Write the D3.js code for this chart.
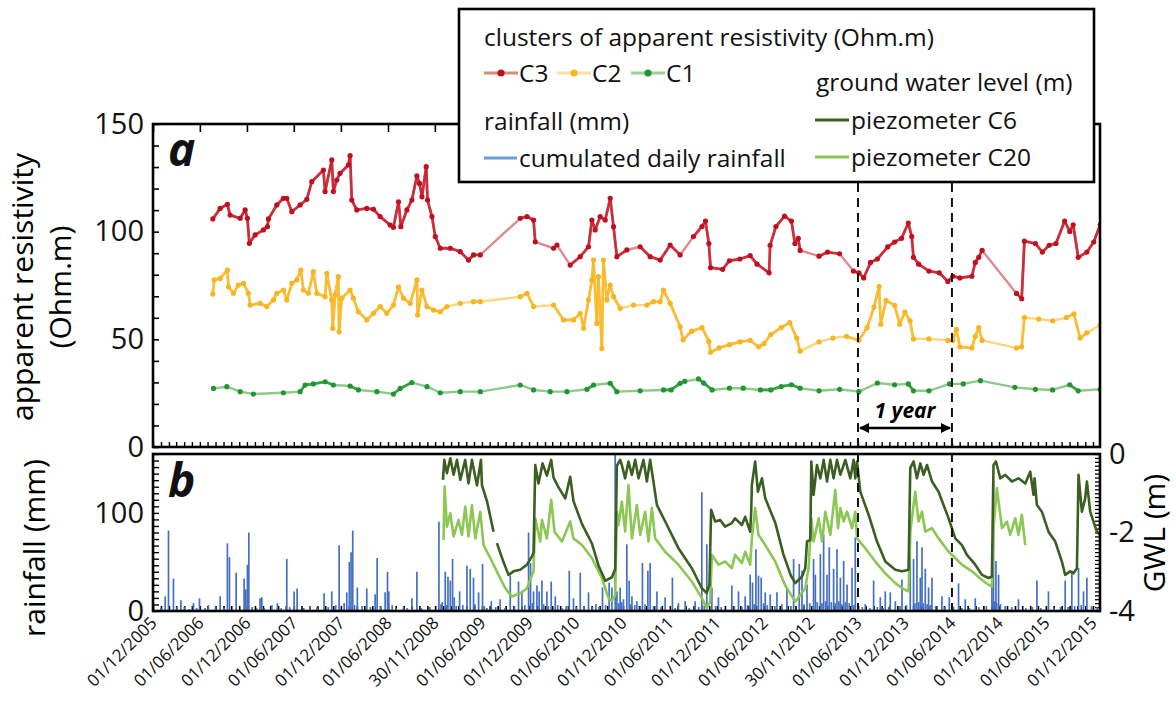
<!DOCTYPE html>
<html>
<head>
<meta charset="utf-8">
<script src="https://cdn.jsdelivr.net/npm/d3@7"></script>
<style>
  html, body { margin: 0; padding: 0; background: #fff; }
  svg { display: block; font-family: "Open Sans", "DejaVu Sans", sans-serif; }
</style>
</head>
<body>
<svg id="chart" width="1176" height="708"></svg>
<script>
// Apparent resistivity clusters [decimal year, Ohm.m]
const c3 = [[2006.552,105.9],[2006.630,110.8],[2006.707,112.7],[2006.736,107.7],[2006.843,106.2],[2006.896,110.1],[2006.920,106.2],[2006.941,94.6],[2007.002,98.5],[2007.090,100.8],[2007.133,102.3],[2007.144,105.9],[2007.233,112.4],[2007.303,115.5],[2007.339,115.5],[2007.393,109.3],[2007.481,112.4],[2007.552,115.0],[2007.605,123.2],[2007.729,128.6],[2007.747,118.6],[2007.818,133.3],[2007.835,118.6],[2007.871,124.0],[2007.906,127.1],[2007.995,131.0],[2008.013,135.3],[2008.031,114.7],[2008.084,110.1],[2008.190,110.8],[2008.261,110.4],[2008.332,107.0],[2008.438,103.1],[2008.473,102.0],[2008.527,113.9],[2008.552,102.3],[2008.616,110.1],[2008.669,114.7],[2008.722,125.9],[2008.750,122.4],[2008.776,116.2],[2008.821,130.2],[2008.835,114.7],[2008.882,107.0],[2008.917,97.7],[2008.970,92.3],[2009.077,92.3],[2009.183,90.7],[2009.271,86.8],[2009.324,89.2],[2009.396,89.2],[2009.821,106.2],[2009.893,107.0],[2009.963,105.4],[2009.981,95.3],[2010.176,92.3],[2010.212,93.8],[2010.353,84.5],[2010.460,88.4],[2010.548,93.0],[2010.584,105.4],[2010.619,100.8],[2010.672,107.0],[2010.726,105.4],[2010.779,115.5],[2010.814,102.3],[2010.850,88.4],[2010.956,91.5],[2011.098,93.0],[2011.204,88.4],[2011.311,86.8],[2011.417,93.8],[2011.523,89.2],[2011.665,97.7],[2011.756,102.4],[2011.793,104.9],[2011.829,94.5],[2011.847,83.3],[2011.976,82.5],[2012.048,86.5],[2012.158,87.3],[2012.268,88.9],[2012.341,84.9],[2012.469,80.9],[2012.480,93.7],[2012.541,102.4],[2012.633,107.2],[2012.706,104.9],[2012.743,94.5],[2012.779,96.9],[2012.798,91.3],[2012.999,88.6],[2013.090,90.5],[2013.218,89.7],[2013.365,81.7],[2013.423,80.9],[2013.474,78.5],[2013.547,85.7],[2013.620,87.3],[2013.730,92.9],[2013.803,95.2],[2013.877,96.9],[2013.949,104.0],[2013.986,97.7],[2014.004,88.1],[2014.060,84.9],[2014.169,81.7],[2014.279,80.9],[2014.370,76.9],[2014.424,79.3],[2014.498,78.5],[2014.626,79.3],[2014.662,85.7],[2014.699,88.1],[2014.735,91.3],[2015.101,71.3],[2015.156,68.9],[2015.185,95.6],[2015.302,94.5],[2015.376,90.5],[2015.449,93.7],[2015.521,94.5],[2015.613,104.9],[2015.668,100.1],[2015.704,103.2],[2015.758,88.1],[2015.850,90.5],[2015.923,95.2],[2015.991,103.2]];

const c2 = [[2006.552,71.0],[2006.566,77.6],[2006.630,78.3],[2006.707,82.2],[2006.718,74.4],[2006.771,71.4],[2006.824,75.2],[2006.878,76.0],[2006.931,71.4],[2006.949,65.9],[2007.055,66.7],[2007.126,65.2],[2007.197,68.3],[2007.233,71.4],[2007.303,72.9],[2007.339,68.3],[2007.393,76.0],[2007.446,77.6],[2007.488,82.2],[2007.516,72.9],[2007.569,71.4],[2007.622,81.4],[2007.658,71.4],[2007.747,69.8],[2007.765,80.7],[2007.818,68.3],[2007.829,55.1],[2007.853,70.6],[2007.888,79.1],[2007.896,53.5],[2007.924,69.1],[2008.013,72.9],[2008.048,69.1],[2008.101,62.8],[2008.190,59.0],[2008.261,62.1],[2008.332,65.2],[2008.403,62.1],[2008.473,65.9],[2008.527,74.4],[2008.580,69.1],[2008.651,66.7],[2008.722,77.6],[2008.730,61.3],[2008.776,72.9],[2008.829,65.2],[2008.899,63.6],[2008.970,62.8],[2009.041,65.2],[2009.183,66.7],[2009.324,67.5],[2009.396,67.5],[2009.821,69.8],[2009.893,71.4],[2009.963,65.2],[2010.176,65.9],[2010.282,59.0],[2010.388,59.0],[2010.460,62.1],[2010.495,55.1],[2010.548,68.3],[2010.584,77.6],[2010.601,86.8],[2010.637,57.4],[2010.654,79.1],[2010.690,45.8],[2010.707,86.8],[2010.743,68.3],[2010.779,75.2],[2010.814,69.8],[2010.885,64.4],[2011.027,65.9],[2011.169,65.9],[2011.239,67.5],[2011.311,67.5],[2011.346,72.9],[2011.417,66.7],[2011.523,55.9],[2011.555,49.8],[2011.646,53.8],[2011.756,55.4],[2011.829,49.0],[2011.847,44.0],[2011.938,46.0],[2012.048,47.5],[2012.158,48.8],[2012.268,49.5],[2012.359,46.5],[2012.414,48.0],[2012.487,52.2],[2012.597,55.4],[2012.688,57.8],[2012.762,50.6],[2012.798,44.5],[2012.999,48.8],[2013.146,50.6],[2013.291,51.4],[2013.423,49.5],[2013.510,55.4],[2013.584,65.0],[2013.638,74.5],[2013.656,57.0],[2013.712,68.1],[2013.803,65.8],[2013.858,57.0],[2013.913,62.6],[2013.968,58.6],[2014.004,50.2],[2014.169,50.2],[2014.370,49.5],[2014.424,49.5],[2014.462,54.6],[2014.498,46.5],[2014.626,46.0],[2014.662,51.4],[2014.699,55.4],[2014.735,49.5],[2015.101,46.0],[2015.156,46.5],[2015.185,60.1],[2015.338,59.4],[2015.485,58.6],[2015.632,60.1],[2015.712,61.8],[2015.778,50.6],[2015.850,53.0],[2015.991,56.6]];

const c1 = [[2006.559,27.2],[2006.701,28.0],[2006.843,25.7],[2006.984,24.6],[2007.303,25.2],[2007.481,25.7],[2007.534,28.8],[2007.622,29.3],[2007.747,30.3],[2007.835,28.8],[2008.013,28.3],[2008.101,26.5],[2008.297,25.7],[2008.473,24.6],[2008.545,27.2],[2008.669,29.9],[2008.829,28.0],[2008.970,25.2],[2009.183,25.7],[2009.396,25.7],[2009.821,28.8],[2009.963,26.5],[2010.140,25.7],[2010.318,25.7],[2010.531,26.8],[2010.601,28.8],[2010.779,29.6],[2010.850,25.7],[2011.098,26.1],[2011.346,26.5],[2011.428,26.5],[2011.523,29.6],[2011.573,30.5],[2011.719,31.6],[2011.774,29.7],[2011.864,26.5],[2012.048,27.3],[2012.194,27.3],[2012.377,26.5],[2012.487,26.5],[2012.598,28.1],[2012.706,28.9],[2012.798,27.3],[2012.999,26.1],[2013.218,26.8],[2013.423,25.7],[2013.620,29.7],[2013.803,28.9],[2013.949,29.3],[2014.004,26.1],[2014.169,26.1],[2014.388,29.3],[2014.534,29.3],[2014.717,30.8],[2015.083,27.7],[2015.302,26.8],[2015.485,26.5],[2015.668,28.9],[2015.758,26.1],[2015.991,26.8]];

// Daily rainfall [decimal year, mm]
const rainfall = [[2006.000,3],[2006.045,15],[2006.080,82],[2006.133,33],[2006.170,4],[2006.212,11],[2006.250,4],[2006.300,2],[2006.346,8],[2006.380,3],[2006.410,13],[2006.470,3],[2006.505,6],[2006.580,4],[2006.630,15],[2006.670,3],[2006.707,69],[2006.729,55],[2006.800,39],[2006.885,33],[2006.903,22],[2006.920,47],[2006.935,80],[2006.970,4],[2007.020,3],[2007.055,13],[2007.073,14],[2007.100,3],[2007.180,6],[2007.239,8],[2007.280,3],[2007.339,53],[2007.370,4],[2007.417,20],[2007.449,23],[2007.520,3],[2007.587,5],[2007.660,4],[2007.736,18],[2007.780,4],[2007.818,20],[2007.860,6],[2007.896,67],[2007.950,8],[2007.978,19],[2008.005,50],[2008.023,60],[2008.041,82],[2008.060,6],[2008.090,24],[2008.140,5],[2008.190,23],[2008.230,4],[2008.279,17],[2008.300,54],[2008.340,5],[2008.385,19],[2008.410,40],[2008.424,20],[2008.460,6],[2008.500,3],[2008.580,4],[2008.620,3],[2008.669,13],[2008.722,40],[2008.770,3],[2008.860,4],[2008.956,91],[2008.978,7],[2008.990,9],[2009.023,40],[2009.040,6],[2009.052,35],[2009.077,31],[2009.101,53],[2009.119,14],[2009.140,5],[2009.176,20],[2009.210,6],[2009.254,46],[2009.289,43],[2009.324,34],[2009.340,7],[2009.378,19],[2009.420,48],[2009.440,5],[2009.467,3],[2009.513,10],[2009.560,4],[2009.608,12],[2009.660,3],[2009.715,36],[2009.760,5],[2009.803,30],[2009.839,18],[2009.870,6],[2009.910,80],[2009.931,49],[2009.950,8],[2009.963,20],[2009.999,26],[2010.023,20],[2010.052,31],[2010.070,7],[2010.105,20],[2010.120,5],[2010.151,30],[2010.194,15],[2010.220,6],[2010.265,3],[2010.310,5],[2010.343,41],[2010.388,13],[2010.420,4],[2010.460,39],[2010.500,5],[2010.548,19],[2010.590,4],[2010.627,7],[2010.660,4],[2010.697,24],[2010.730,6],[2010.768,29],[2010.797,24],[2010.832,160],[2010.850,20],[2010.870,8],[2010.885,24],[2010.900,9],[2010.920,12],[2010.956,68],[2010.981,31],[2010.990,7],[2011.010,15],[2011.040,6],[2011.063,10],[2011.100,5],[2011.122,49],[2011.150,7],[2011.180,41],[2011.204,49],[2011.240,5],[2011.276,20],[2011.320,4],[2011.364,14],[2011.441,34],[2011.470,3],[2011.505,8],[2011.577,10],[2011.620,3],[2011.683,10],[2011.720,4],[2011.754,121],[2011.780,6],[2011.807,68],[2011.861,24],[2011.900,5],[2011.931,14],[2011.960,4],[2012.073,26],[2012.100,5],[2012.144,20],[2012.180,4],[2012.215,15],[2012.240,6],[2012.268,37],[2012.293,29],[2012.310,7],[2012.329,63],[2012.356,36],[2012.385,34],[2012.410,8],[2012.428,19],[2012.450,6],[2012.481,17],[2012.530,5],[2012.552,19],[2012.605,7],[2012.658,24],[2012.700,5],[2012.729,53],[2012.789,48],[2012.818,41],[2012.840,7],[2012.871,27],[2012.900,8],[2012.941,53],[2012.960,37],[2012.980,9],[2013.013,58],[2013.030,8],[2013.048,78],[2013.070,10],[2013.084,37],[2013.108,65],[2013.130,9],[2013.154,43],[2013.170,8],[2013.190,63],[2013.210,10],[2013.226,34],[2013.240,7],[2013.261,51],[2013.280,9],[2013.297,27],[2013.320,8],[2013.350,44],[2013.370,6],[2013.385,75],[2013.460,4],[2013.491,7],[2013.540,3],[2013.580,31],[2013.620,4],[2013.651,14],[2013.680,3],[2013.704,20],[2013.740,4],[2013.757,19],[2013.811,10],[2013.860,5],[2013.882,32],[2013.930,6],[2013.970,83],[2014.005,53],[2014.020,8],[2014.041,71],[2014.060,9],[2014.077,34],[2014.095,65],[2014.110,8],[2014.130,43],[2014.150,7],[2014.165,24],[2014.190,6],[2014.201,34],[2014.240,5],[2014.307,15],[2014.340,4],[2014.385,14],[2014.430,4],[2014.484,28],[2014.520,3],[2014.555,12],[2014.600,3],[2014.662,13],[2014.700,4],[2014.780,5],[2014.839,68],[2014.850,9],[2014.856,133],[2014.870,10],[2014.882,51],[2014.890,8],[2014.910,37],[2014.930,7],[2014.980,5],[2015.050,4],[2015.122,12],[2015.200,3],[2015.270,4],[2015.318,31],[2015.360,3],[2015.441,20],[2015.500,3],[2015.570,4],[2015.619,31],[2015.650,4],[2015.690,41],[2015.720,5],[2015.761,44],[2015.790,6],[2015.814,20],[2015.850,34],[2015.900,5],[2015.960,4]];

// Ground water level [decimal year, m]; null marks a gap in the record
const gwlC6 = [[2008.999,-0.66],[2009.013,-0.15],[2009.041,-0.49],[2009.077,-0.11],[2009.112,-0.53],[2009.148,-0.15],[2009.183,-0.66],[2009.236,-0.15],[2009.271,-0.75],[2009.307,-0.15],[2009.361,-0.80],[2009.403,-0.15],[2009.414,-0.80],[2009.467,-1.20],[2009.537,-1.98],[2009.555,null],[2009.573,-2.27],[2009.644,-2.76],[2009.697,-3.08],[2009.750,-2.99],[2009.821,-2.95],[2009.893,-2.82],[2009.946,-2.61],[2009.963,-2.51],[2009.981,-0.28],[2010.016,-0.75],[2010.059,-0.24],[2010.105,-0.55],[2010.151,-0.15],[2010.176,-0.60],[2010.229,-0.85],[2010.300,-1.13],[2010.353,-0.58],[2010.388,-1.20],[2010.478,-1.78],[2010.584,-2.28],[2010.654,-2.84],[2010.726,-3.23],[2010.797,-3.14],[2010.832,-2.93],[2010.850,-0.30],[2010.885,-0.15],[2010.903,-0.28],[2010.938,-0.62],[2010.973,-0.19],[2011.010,-0.53],[2011.045,-0.15],[2011.080,-0.62],[2011.133,-0.15],[2011.169,-0.70],[2011.204,-0.15],[2011.239,-0.70],[2011.276,-1.30],[2011.364,-1.72],[2011.505,-2.40],[2011.648,-2.91],[2011.754,-3.42],[2011.807,-3.54],[2011.835,-3.33],[2011.853,-1.42],[2011.896,-1.72],[2011.949,-1.68],[2012.002,-1.85],[2012.073,-1.76],[2012.108,-1.64],[2012.180,-1.81],[2012.215,-1.60],[2012.268,-1.98],[2012.279,-1.47],[2012.286,-0.79],[2012.321,-0.19],[2012.350,-0.96],[2012.393,-0.62],[2012.428,-1.13],[2012.534,-1.75],[2012.620,-2.55],[2012.700,-3.10],[2012.747,-3.29],[2012.818,-3.12],[2012.853,-2.91],[2012.871,-2.23],[2012.906,-2.19],[2012.917,-0.19],[2012.941,-1.04],[2012.977,-0.28],[2013.013,-0.62],[2013.048,-0.15],[2013.084,-0.70],[2013.119,-0.15],[2013.154,-0.62],[2013.190,-0.15],[2013.226,-0.53],[2013.279,-0.15],[2013.332,-0.62],[2013.367,-0.15],[2013.385,-0.62],[2013.403,-0.19],[2013.438,-0.96],[2013.527,-1.55],[2013.616,-2.23],[2013.704,-2.74],[2013.811,-2.95],[2013.882,-2.99],[2013.952,-2.95],[2013.970,-0.36],[2014.005,-0.19],[2014.041,-0.62],[2014.077,-0.24],[2014.112,-0.53],[2014.148,-0.28],[2014.201,-0.70],[2014.271,-0.96],[2014.378,-1.64],[2014.449,-2.15],[2014.520,-2.32],[2014.573,-2.57],[2014.662,-2.82],[2014.733,-3.08],[2014.803,-3.16],[2014.839,-3.12],[2014.856,-0.28],[2014.882,-0.19],[2014.928,-0.62],[2014.981,-0.53],[2015.052,-0.70],[2015.122,-0.62],[2015.194,-0.75],[2015.247,-0.45],[2015.282,-1.04],[2015.293,-0.62],[2015.318,-1.30],[2015.371,-1.47],[2015.441,-1.98],[2015.513,-2.23],[2015.584,-2.74],[2015.619,-3.08],[2015.672,-2.99],[2015.707,-3.04],[2015.744,-2.91],[2015.761,-0.53],[2015.797,-1.47],[2015.832,-1.13],[2015.850,-0.70],[2015.885,-1.47],[2015.956,-1.98],[2015.991,-2.06]];

const gwlC20 = [[2009.005,-2.19],[2009.016,-0.83],[2009.041,-1.85],[2009.077,-1.51],[2009.112,-2.10],[2009.165,-1.68],[2009.201,-2.06],[2009.236,-1.34],[2009.271,-2.10],[2009.307,-1.30],[2009.343,-2.15],[2009.396,-1.47],[2009.431,-2.32],[2009.502,-2.65],[2009.590,-3.08],[2009.662,-3.42],[2009.733,-3.63],[2009.821,-3.55],[2009.893,-3.42],[2009.963,-2.98],[2009.981,-1.64],[2010.034,-2.23],[2010.052,-1.68],[2010.105,-2.15],[2010.151,-1.17],[2010.186,-1.98],[2010.265,-2.23],[2010.353,-1.72],[2010.388,-2.15],[2010.478,-2.32],[2010.584,-2.65],[2010.690,-3.16],[2010.761,-3.67],[2010.797,-3.74],[2010.832,-3.60],[2010.850,-1.47],[2010.867,-1.81],[2010.903,-1.21],[2010.938,-1.98],[2010.973,-0.79],[2011.010,-2.15],[2011.063,-1.30],[2011.098,-2.06],[2011.151,-1.47],[2011.186,-2.23],[2011.222,-1.38],[2011.257,-2.15],[2011.364,-2.49],[2011.505,-2.82],[2011.648,-3.25],[2011.754,-3.67],[2011.807,-3.92],[2011.843,-3.76],[2011.861,-2.57],[2011.931,-2.82],[2012.002,-2.74],[2012.073,-2.91],[2012.108,-2.57],[2012.180,-2.78],[2012.215,-2.49],[2012.268,-2.82],[2012.286,-2.15],[2012.321,-1.38],[2012.356,-2.06],[2012.428,-2.32],[2012.534,-2.74],[2012.640,-3.35],[2012.747,-3.76],[2012.853,-3.42],[2012.888,-2.91],[2012.917,-1.64],[2012.941,-2.23],[2012.995,-1.64],[2013.031,-2.23],[2013.066,-1.47],[2013.119,-2.06],[2013.172,-0.92],[2013.201,-1.89],[2013.226,-1.38],[2013.261,-1.72],[2013.297,-1.47],[2013.350,-1.89],[2013.385,-1.47],[2013.403,-2.15],[2013.491,-2.40],[2013.598,-2.74],[2013.704,-3.04],[2013.811,-3.29],[2013.882,-3.42],[2013.952,-3.50],[2013.970,-1.98],[2014.023,-0.96],[2014.058,-1.72],[2014.095,-1.47],[2014.130,-1.98],[2014.201,-1.89],[2014.271,-2.15],[2014.378,-2.49],[2014.449,-2.65],[2014.520,-2.82],[2014.626,-2.99],[2014.733,-3.21],[2014.803,-3.33],[2014.839,-3.38],[2014.856,-1.89],[2014.892,-0.87],[2014.946,-1.89],[2014.999,-1.72],[2015.034,-2.06],[2015.087,-1.64],[2015.122,-2.06],[2015.158,-1.55],[2015.194,-2.32]];

// Date axis labels (every six months)
const dateLabels = ["01/12/2005","01/06/2006","01/12/2006","01/06/2007","01/12/2007","01/06/2008","30/11/2008","01/06/2009","01/12/2009","01/06/2010","01/12/2010","01/06/2011","01/12/2011","01/06/2012","30/11/2012","01/06/2013","01/12/2013","01/06/2014","01/12/2014","01/06/2015","01/12/2015"];
const resistivityTicks = [0, 50, 100, 150];
const rainTicks = [0, 100];
const gwlTicks = [0, -2, -4];
const yearMarks = ["01/06/2013", "01/06/2014"];

// ---------------------------------------------------------------
const svg = d3.select("#chart");
const parse = d3.utcParse("%d/%m/%Y");
const fromDecimal = y => {
  const yr = Math.floor(y);
  const a = Date.UTC(yr, 0, 1), b = Date.UTC(yr + 1, 0, 1);
  return new Date(a + (y - yr) * (b - a));
};

const L = 153, R = 1100;
const aTop = 124, aBot = 447, bTop = 454, bBot = 611;

const x = d3.scaleUtc()
  .domain([parse("01/12/2005"), parse("01/12/2015")])
  .range([L, 1093]);
const yA = d3.scaleLinear().domain([0, 150]).range([aBot, aTop]);
const yRain = d3.scaleLinear().domain([0, 160]).range([bBot, bTop]);
const yGwl = d3.scaleLinear().domain([-4, 0]).range([bBot, bTop]);

const defs = svg.append("defs");
defs.append("clipPath").attr("id", "clipA").append("rect")
  .attr("x", L).attr("y", aTop).attr("width", R - L).attr("height", aBot - aTop);
defs.append("clipPath").attr("id", "clipB").append("rect")
  .attr("x", L).attr("y", bTop).attr("width", R - L).attr("height", bBot - bTop);
const mk = defs.append("marker").attr("id", "arrow").attr("viewBox", "0 0 10 10")
  .attr("refX", 9).attr("refY", 5).attr("markerWidth", 4).attr("markerHeight", 4)
  .attr("orient", "auto-start-reverse");
mk.append("path").attr("d", "M0,0 L10,5 L0,10 Z").attr("fill", "#000");

const monthTicks = d3.utcMonth.range(parse("01/12/2005"), new Date(Date.UTC(2016, 0, 1)));
const labelDates = dateLabels.map(parse);

// ---------------- panel a ----------------
const gA = svg.append("g");

const axAleft = d3.axisLeft(yA).tickValues(d3.range(0, 151, 10)).tickSize(-6)
  .tickPadding(9).tickFormat(d => resistivityTicks.includes(d) ? d : "");
gA.append("g").attr("transform", `translate(${L},0)`).call(axAleft)
  .call(g => g.select(".domain").remove())
  .call(g => g.selectAll("line").attr("stroke-width", 1.6))
  .call(g => g.selectAll("text").attr("font-size", 29).attr("fill", "#111").attr("font-family", "Open Sans"));

gA.append("g").attr("transform", `translate(0,${aTop})`)
  .call(d3.axisTop(x).tickValues(labelDates).tickSize(-8).tickFormat(""))
  .call(g => g.select(".domain").remove())
  .call(g => g.selectAll("line").attr("stroke-width", 1.6));
gA.append("g").attr("transform", `translate(0,${aBot})`)
  .call(d3.axisBottom(x).tickValues(monthTicks).tickSize(-5).tickFormat(""))
  .call(g => g.select(".domain").remove())
  .call(g => g.selectAll("line").attr("stroke-width", 1.4));

const plotA = gA.append("g").attr("clip-path", "url(#clipA)");

const clusters = [
  {data: c1, line: "#8fca8c", dark: "#2a9a36", dot: "#1f9630"},
  {data: c2, line: "#fcd67e", dark: "#f9b92a", dot: "#f8b520"},
  {data: c3, line: "#df8a8f", dark: "#c81e2e", dot: "#c0101f"}
];
const lineA = d3.line().x(d => x(fromDecimal(d[0]))).y(d => yA(d[1]));
clusters.forEach(c => {
  plotA.append("path").datum(c.data).attr("d", lineA)
    .attr("fill", "none").attr("stroke", c.line).attr("stroke-width", 2.4).attr("stroke-linejoin", "round");
  // closely spaced readings read as a solid trace
  const pairs = d3.pairs(c.data).filter(([p, q]) => q[0] - p[0] < 0.14);
  plotA.append("g").selectAll("path").data(pairs).join("path")
    .attr("d", lineA).attr("fill", "none").attr("stroke", c.dark)
    .attr("stroke-width", 2.8).attr("stroke-opacity", 0.85).attr("stroke-linecap", "round");
  plotA.append("g").selectAll("circle").data(c.data).join("circle")
    .attr("cx", d => x(fromDecimal(d[0]))).attr("cy", d => yA(d[1]))
    .attr("r", 2.6).attr("fill", c.dot);
});

gA.append("rect").attr("x", L).attr("y", aTop).attr("width", R - L).attr("height", aBot - aTop)
  .attr("fill", "none").attr("stroke", "#000").attr("stroke-width", 2.6);

gA.append("text").attr("x", 168).attr("y", 166).text("a")
  .attr("font-size", 46).attr("font-weight", 700).attr("font-style", "italic").attr("fill", "#111");

// ---------------- panel b ----------------
const gB = svg.append("g");

gB.append("g").attr("transform", `translate(${L},0)`)
  .call(d3.axisLeft(yRain).tickValues(d3.range(0, 160.01, 160 / 24)).tickSize(-6).tickPadding(9)
    .tickFormat(d => rainTicks.some(t => Math.abs(t - d) < 0.01) ? Math.round(d) : ""))
  .call(g => g.select(".domain").remove())
  .call(g => g.selectAll("line").attr("stroke-width", 1.4))
  .call(g => g.selectAll("text").attr("font-size", 29).attr("fill", "#111").attr("font-family", "Open Sans"));

gB.append("g").attr("transform", `translate(${R},0)`)
  .call(d3.axisRight(yGwl).tickValues(d3.range(-40, 1).map(v => v / 10)).tickSize(-5).tickPadding(9)
    .tickFormat(d => gwlTicks.some(t => Math.abs(t - d) < 0.001) ? String(Math.round(d)) : ""))
  .call(g => g.select(".domain").remove())
  .call(g => g.selectAll("line").attr("stroke-width", 1.3))
  .call(g => g.selectAll("text").attr("font-size", 29).attr("fill", "#111").attr("font-family", "Open Sans"));

gB.append("g").attr("transform", `translate(0,${bBot})`)
  .call(d3.axisBottom(x).tickValues(monthTicks).tickSize(-5).tickFormat(""))
  .call(g => g.select(".domain").remove())
  .call(g => g.selectAll("line").attr("stroke-width", 1.6));

const plotB = gB.append("g").attr("clip-path", "url(#clipB)");

plotB.append("g").selectAll("line").data(rainfall).join("line")
  .attr("x1", d => x(fromDecimal(d[0]))).attr("x2", d => x(fromDecimal(d[0])))
  .attr("y1", yRain(0)).attr("y2", d => yRain(d[1]))
  .attr("stroke", "#4470c2").attr("stroke-width", 1.7);

const lineB = d3.line().defined(d => d[1] !== null)
  .x(d => x(fromDecimal(d[0]))).y(d => yGwl(d[1]));
plotB.append("path").datum(gwlC20).attr("d", lineB).attr("fill", "none")
  .attr("stroke", "#8cc653").attr("stroke-width", 2.6).attr("stroke-linejoin", "round");
plotB.append("path").datum(gwlC6).attr("d", lineB).attr("fill", "none")
  .attr("stroke", "#3b5f22").attr("stroke-width", 2.6).attr("stroke-linejoin", "round");

gB.append("rect").attr("x", L).attr("y", bTop).attr("width", R - L).attr("height", bBot - bTop)
  .attr("fill", "none").attr("stroke", "#000").attr("stroke-width", 2.6);

gB.append("text").attr("x", 168).attr("y", 497).text("b")
  .attr("font-size", 46).attr("font-weight", 700).attr("font-style", "italic").attr("fill", "#111");

// date labels
svg.append("g").selectAll("text").data(labelDates).join("text")
  .attr("transform", d => `translate(${x(d) + 5},${bBot + 13}) rotate(-45)`)
  .attr("text-anchor", "end").attr("font-size", 17).attr("fill", "#111")
  .text((d, i) => dateLabels[i]);

// one hydrological year
const ym = yearMarks.map(parse);
svg.append("g").selectAll("line").data(ym).join("line")
  .attr("x1", d => x(d)).attr("x2", d => x(d)).attr("y1", 183).attr("y2", bBot)
  .attr("stroke", "#111").attr("stroke-width", 2).attr("stroke-dasharray", "9,6");
svg.append("line").attr("x1", x(ym[0]) + 2).attr("x2", x(ym[1]) - 2).attr("y1", 428).attr("y2", 428)
  .attr("stroke", "#000").attr("stroke-width", 2.6)
  .attr("marker-start", "url(#arrow)").attr("marker-end", "url(#arrow)");
svg.append("text").attr("x", (x(ym[0]) + x(ym[1])) / 2).attr("y", 418).attr("text-anchor", "middle")
  .attr("font-size", 21).attr("font-weight", 700).attr("font-style", "italic").text("1 year");

// axis titles
svg.append("text").attr("transform", "translate(33,287) rotate(-90)").attr("text-anchor", "middle")
  .attr("font-size", 30).text("apparent resistivity");
svg.append("text").attr("transform", "translate(71,287) rotate(-90)").attr("text-anchor", "middle")
  .attr("font-size", 30).text("(Ohm.m)");
svg.append("text").attr("transform", "translate(45,548) rotate(-90)").attr("text-anchor", "middle")
  .attr("font-size", 30).text("rainfall (mm)");
svg.append("text").attr("transform", "translate(1165,533) rotate(-90)").attr("text-anchor", "middle")
  .attr("font-size", 30).text("GWL (m)");

// ---------------- legend ----------------
const lg = svg.append("g");
lg.append("rect").attr("x", 459).attr("y", 9).attr("width", 635).attr("height", 173)
  .attr("fill", "#fff").attr("stroke", "#000").attr("stroke-width", 2.6);
const lt = (tx, ty, s) => lg.append("text").attr("x", tx).attr("y", ty).attr("font-size", 24.5).attr("fill", "#111").text(s);
lt(484, 46, "clusters of apparent resistivity (Ohm.m)");
const items = [
  {x0: 484, name: "C3", line: "#dc8a78", dot: "#c0101f"},
  {x0: 557, name: "C2", line: "#fde09a", dot: "#f8b520"},
  {x0: 631, name: "C1", line: "#9dcf98", dot: "#1f9630"}
];
items.forEach(it => {
  lg.append("line").attr("x1", it.x0).attr("x2", it.x0 + 34).attr("y1", 73).attr("y2", 73)
    .attr("stroke", it.line).attr("stroke-width", 3);
  lg.append("circle").attr("cx", it.x0 + 17).attr("cy", 73).attr("r", 3.6).attr("fill", it.dot);
  lt(it.x0 + 35, 82, it.name);
});
lt(484, 130, "rainfall (mm)");
lg.append("line").attr("x1", 484).attr("x2", 517).attr("y1", 158).attr("y2", 158)
  .attr("stroke", "#6a9fd8").attr("stroke-width", 3);
lt(519, 167, "cumulated daily rainfall");
lt(816, 91, "ground water level (m)");
lg.append("line").attr("x1", 815).attr("x2", 849).attr("y1", 120).attr("y2", 120)
  .attr("stroke", "#3b5f22").attr("stroke-width", 3);
lt(851, 129, "piezometer C6");
lg.append("line").attr("x1", 815).attr("x2", 849).attr("y1", 157).attr("y2", 157)
  .attr("stroke", "#8cc653").attr("stroke-width", 3);
lt(851, 166, "piezometer C20");
</script>
</body>
</html>
